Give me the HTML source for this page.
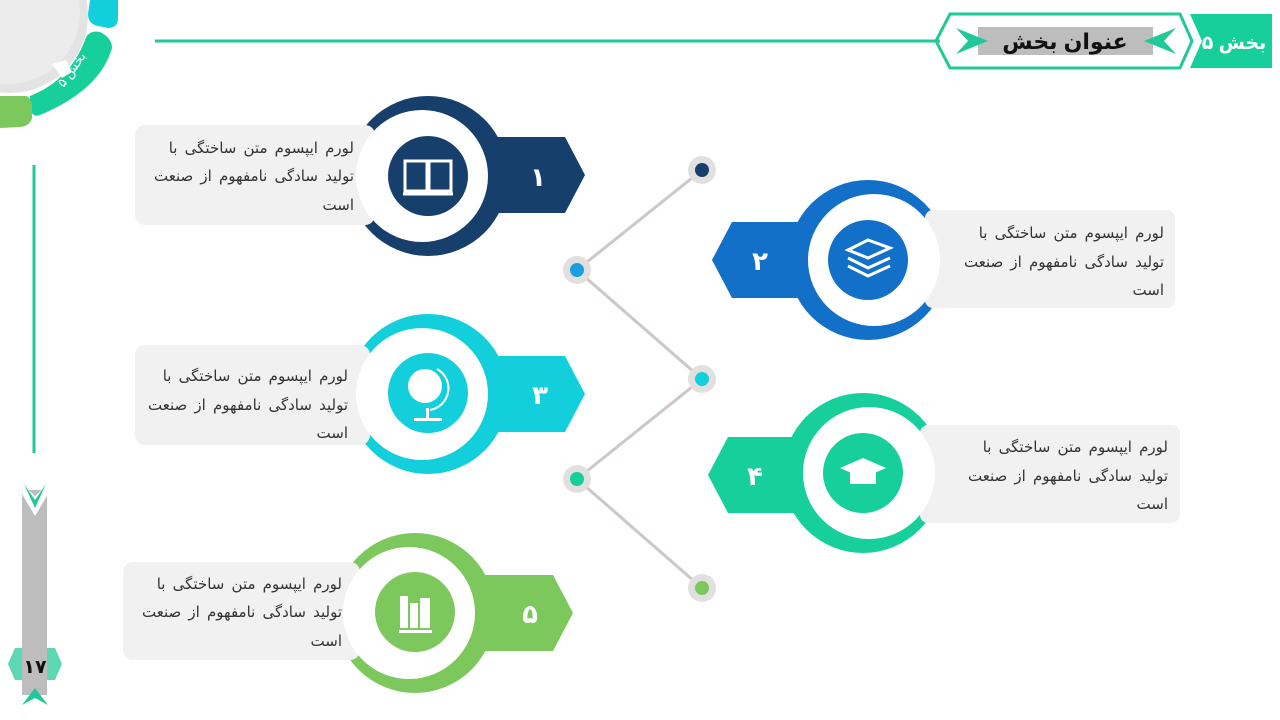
<!DOCTYPE html>
<html><head><meta charset="utf-8"><style>
html,body{margin:0;padding:0;background:#fff;}
svg{display:block;font-family:"Liberation Sans","DejaVu Sans",sans-serif;}
.t{font-size:15px;fill:#333;word-spacing:3px;}
.n{font-size:26px;font-weight:bold;fill:#fff;}
</style></head><body>
<svg width="1280" height="720" viewBox="0 0 1280 720" xmlns="http://www.w3.org/2000/svg">
<!-- top-left decoration -->
<path d="M90,0 L118,0 L118,18 Q118,28 108,28 L98,26 Q88,24 88,14 Z" fill="#13cfdc"/>
<path d="M100,32 Q112,38 112,48 Q100,90 40,115 Q32,118 30,108 L30,96 Q70,80 85,40 Q88,30 100,32 Z" fill="#16cf9a"/>
<text x="75" y="72" transform="rotate(-55 75 72)" font-size="13" fill="#fff" text-anchor="middle">بخش ۵</text>
<path d="M0,96 L26,96 Q32,98 32,108 L32,118 Q30,126 20,127 L0,128 Z" fill="#7cc85d"/>
<circle cx="10" cy="15" r="78" fill="#e3e3e3"/>
<circle cx="8" cy="12" r="72" fill="#ececec"/>
<path d="M52,64 L66,60 L72,72 L62,78 Z" fill="#fff"/>
<!-- header -->
<rect x="155" y="39.5" width="785" height="3" fill="#20c997"/>
<polygon points="950,14 1180,14 1192,41 1180,68 950,68 936,41" fill="none" stroke="#20c997" stroke-width="3"/>
<rect x="978" y="27" width="175" height="28" fill="#bdbdbd"/>
<polygon points="956,28 988,41 956,54 968,41" fill="#20c997"/>
<polygon points="1176,28 1144,41 1176,54 1164,41" fill="#20c997"/>
<text x="1065" y="49" font-size="22" font-weight="bold" fill="#111" text-anchor="middle">عنوان بخش</text>
<polygon points="1202,14 1272,14 1272,68 1190,68 1202,41 1190,14" fill="#16cf9a"/>
<text x="1234" y="49" font-size="19" font-weight="bold" fill="#fff" text-anchor="middle">بخش ۵</text>
<!-- left vertical -->
<rect x="32.5" y="165" width="3" height="288" fill="#20c997"/>
<rect x="22" y="490" width="25" height="205" fill="#bdbdbd"/>
<polygon points="22,484 35,496 48,484 48,494 35,516 22,494" fill="#fff"/>
<polygon points="24,484 35,500 46,484 35,508" fill="#20c997"/>
<polygon points="15,648 55,648 62,664 55,680 15,680 8,664" fill="#5ed7b4"/>
<rect x="22" y="648" width="25" height="32" fill="#bdbdbd"/>
<polygon points="22,705 35,688 48,705 35,698" fill="#20c997"/>
<text x="35" y="673" font-size="19" font-weight="bold" fill="#111" text-anchor="middle">۱۷</text>
<!-- connectors -->
<polyline points="702,170 577,270 702,379 577,479 702,588" fill="none" stroke="#cfc6c6" stroke-width="3"/>
<g fill="#e2dfdf">
<circle cx="702" cy="170" r="14"/><circle cx="577" cy="270" r="14"/><circle cx="702" cy="379" r="14"/><circle cx="577" cy="479" r="14"/><circle cx="702" cy="588" r="14"/></g>
<circle cx="702" cy="170" r="7" fill="#173f6c"/>
<circle cx="577" cy="270" r="7" fill="#1a9ee0"/>
<circle cx="702" cy="379" r="7" fill="#13cfdc"/>
<circle cx="577" cy="479" r="7" fill="#16cf9a"/>
<circle cx="702" cy="588" r="7" fill="#7cc85d"/>

<!-- item 1 -->
<circle cx="428" cy="176" r="80" fill="#173f6c"/>
<path d="M480,137 L565,137 L585,175 L565,213 L480,213 Z" fill="#173f6c"/>
<rect x="135" y="125" width="240" height="100" rx="10" fill="#f1f1f1"/>
<circle cx="422" cy="176" r="66" fill="#fff"/>
<circle cx="428" cy="176" r="40" fill="#173f6c"/>
<g fill="none" stroke="#fff" stroke-width="3"><rect x="405" y="161" width="22" height="30"/><rect x="429" y="161" width="22" height="30"/><line x1="403" y1="194" x2="453" y2="194"/></g>
<text class="n" x="538" y="186" text-anchor="middle">۱</text>
<g class="t" text-anchor="end"><text x="354" y="153">لورم ایپسوم متن ساختگی با</text><text x="354" y="181">تولید سادگی نامفهوم از صنعت</text><text x="354" y="210">است</text></g>

<!-- item 2 -->
<circle cx="868" cy="260" r="80" fill="#1270c8"/>
<path d="M800,222 L732,222 L712,260 L732,298 L800,298 Z" fill="#1270c8"/>
<rect x="925" y="210" width="250" height="98" rx="8" fill="#f1f1f1"/>
<circle cx="874" cy="260" r="66" fill="#fff"/>
<circle cx="868" cy="260" r="40" fill="#1270c8"/>
<g fill="none" stroke="#fff" stroke-width="3"><path d="M848,250 L868,240 L890,248 L868,258 Z"/><path d="M848,258 L868,268 L890,258"/><path d="M848,266 L868,276 L890,266"/></g>
<text class="n" x="760" y="270" text-anchor="middle">۲</text>
<g class="t" text-anchor="end"><text x="1164" y="238">لورم ایپسوم متن ساختگی با</text><text x="1164" y="267">تولید سادگی نامفهوم از صنعت</text><text x="1164" y="295">است</text></g>

<!-- item 3 -->
<circle cx="428" cy="394" r="80" fill="#13cfdc"/>
<path d="M480,356 L565,356 L585,394 L565,432 L480,432 Z" fill="#13cfdc"/>
<rect x="135" y="345" width="235" height="100" rx="10" fill="#f1f1f1"/>
<circle cx="422" cy="394" r="66" fill="#fff"/>
<circle cx="428" cy="393" r="40" fill="#13cfdc"/>
<circle cx="425" cy="386" r="17" fill="#fff"/>
<path d="M437,369 A22,22 0 0 1 430,410" fill="none" stroke="#fff" stroke-width="2"/>
<rect x="414" y="418" width="28" height="3" fill="#fff"/><rect x="426" y="408" width="3" height="11" fill="#fff"/>
<text class="n" x="540" y="404" text-anchor="middle">۳</text>
<g class="t" text-anchor="end"><text x="348" y="381">لورم ایپسوم متن ساختگی با</text><text x="348" y="410">تولید سادگی نامفهوم از صنعت</text><text x="348" y="438">است</text></g>

<!-- item 4 -->
<circle cx="863" cy="473" r="80" fill="#16cf9a"/>
<path d="M795,437 L728,437 L708,475 L728,513 L795,513 Z" fill="#16cf9a"/>
<rect x="920" y="425" width="260" height="98" rx="8" fill="#f1f1f1"/>
<circle cx="869" cy="473" r="66" fill="#fff"/>
<circle cx="863" cy="473" r="40" fill="#16cf9a"/>
<path d="M840,468 L863,458 L886,468 L863,478 Z" fill="#fff"/><path d="M850,472 L850,484 L876,484 L876,472 L863,478 Z" fill="#fff"/>
<text class="n" x="755" y="485" text-anchor="middle">۴</text>
<g class="t" text-anchor="end"><text x="1168" y="452">لورم ایپسوم متن ساختگی با</text><text x="1168" y="481">تولید سادگی نامفهوم از صنعت</text><text x="1168" y="509">است</text></g>

<!-- item 5 -->
<circle cx="415" cy="613" r="80" fill="#7cc85d"/>
<path d="M468,575 L553,575 L573,613 L553,651 L468,651 Z" fill="#7cc85d"/>
<rect x="123" y="562" width="237" height="98" rx="10" fill="#f1f1f1"/>
<circle cx="409" cy="613" r="66" fill="#fff"/>
<circle cx="415" cy="612" r="40" fill="#7cc85d"/>
<g fill="#fff"><rect x="400" y="596" width="8" height="32"/><rect x="410" y="603" width="8" height="25"/><rect x="420" y="598" width="10" height="30"/><rect x="399" y="630" width="33" height="3"/></g>
<text class="n" x="530" y="623" text-anchor="middle">۵</text>
<g class="t" text-anchor="end"><text x="342" y="589">لورم ایپسوم متن ساختگی با</text><text x="342" y="617">تولید سادگی نامفهوم از صنعت</text><text x="342" y="646">است</text></g>
</svg>
</body></html>
